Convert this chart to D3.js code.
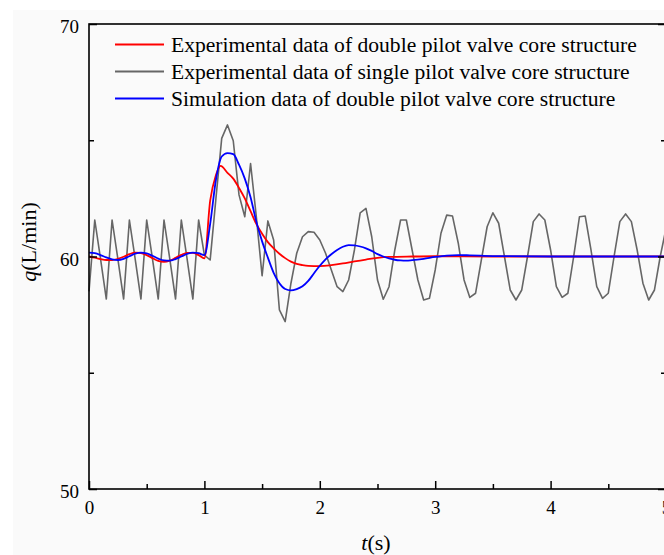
<!DOCTYPE html>
<html>
<head>
<meta charset="utf-8">
<script src="https://cdn.jsdelivr.net/npm/d3@7"></script>
<style>
  body { margin: 0; background: #ffffff; }
  svg text { font-family: "Liberation Serif", "Times New Roman", serif; fill: #000; }
</style>
</head>
<body>
<div id="chart"></div>
<script>
// single pilot experiment, sampled every 0.05 s from 0 to 5 s
const grayStep = 0.05;
const grayValues = [
  58.5, 61.57, 59.9, 58.17, 61.57, 59.9, 58.17, 61.57, 59.9, 58.17,
  61.57, 59.9, 58.17, 61.57, 59.9, 58.17, 61.57, 59.9, 58.17, 61.57,
  60.06, 59.85, 62.5, 65.08, 65.66, 64.98, 62.65, 61.71, 64.0, 61.71,
  59.17, 61.53, 60.71, 57.7, 57.2, 58.85, 60.14, 60.85, 61.07, 61.04,
  60.71, 60.14, 59.42, 58.7, 58.49, 58.99, 60.28, 61.88, 62.07, 60.85,
  58.99, 58.16, 58.7, 60.28, 61.57, 61.57, 60.28, 58.99, 58.13, 58.2,
  59.42, 61.0, 61.78, 61.74, 60.57, 58.99, 58.24, 58.42, 59.85, 61.28,
  61.88, 61.43, 60.0, 58.56, 58.13, 58.56, 60.0, 61.5, 61.83, 61.57,
  60.28, 58.7, 58.24, 58.42, 60.0, 61.71, 61.74, 60.28, 58.7, 58.2,
  58.42, 60.0, 61.5, 61.83, 61.5, 60.28, 58.85, 58.13, 58.56, 60.0,
  61.2
];

// double pilot experiment
const redTimes = [0, 0.05, 0.1, 0.15, 0.2, 0.25, 0.3, 0.35, 0.4, 0.45, 0.5, 0.55, 0.6, 0.65, 0.7, 0.75, 0.8, 0.85, 0.9, 0.95,
  1.0, 1.05, 1.1, 1.14, 1.2, 1.25, 1.3, 1.35, 1.4, 1.45, 1.5, 1.55, 1.6, 1.65, 1.7, 1.75, 1.8, 1.85, 1.9,
  2.0, 2.1, 2.2, 2.3, 2.4, 2.5, 2.6, 2.8, 3.0, 3.5, 4.0, 4.5, 5.0];
const redValues = [60.0, 59.95, 59.89, 59.85, 59.85, 59.9, 59.99, 60.1, 60.17, 60.15, 60.06, 59.93, 59.81, 59.77, 59.82, 59.94, 60.07, 60.16, 60.16, 60.06,
  59.92, 62.4, 63.5, 63.9, 63.6, 63.35, 62.95, 62.5, 61.95, 61.4, 60.98, 60.62, 60.35, 60.12, 59.93, 59.78, 59.68, 59.63, 59.6,
  59.59, 59.63, 59.7, 59.79, 59.87, 59.94, 59.98, 60.0, 60.01, 60.0, 60.0, 60.0, 60.0];

// double pilot simulation
const blueTimes = [0, 0.05, 0.1, 0.15, 0.2, 0.25, 0.3, 0.35, 0.4, 0.45, 0.5, 0.55, 0.6, 0.65, 0.7, 0.75, 0.8, 0.85, 0.9, 0.95,
  1.0, 1.05, 1.1, 1.15, 1.2, 1.25, 1.3, 1.35, 1.4, 1.45, 1.5, 1.55, 1.6, 1.65, 1.7, 1.75, 1.8, 1.85, 1.9, 1.95,
  2.0, 2.05, 2.1, 2.15, 2.2, 2.25, 2.3, 2.35, 2.4, 2.45, 2.5, 2.55, 2.6, 2.65, 2.7, 2.75, 2.8, 2.9,
  3.0, 3.1, 3.2, 3.3, 3.5, 4.0, 4.5, 5.0];
const blueValues = [60.17, 60.14, 60.06, 59.96, 59.88, 59.85, 59.9, 60.01, 60.12, 60.17, 60.13, 60.03, 59.91, 59.83, 59.82, 59.89, 60.0, 60.11, 60.17, 60.14,
  60.06, 61.4, 63.3, 64.3, 64.45, 64.4, 63.95, 63.35, 62.55, 61.5, 60.65, 59.95, 59.3, 58.85, 58.6, 58.54, 58.6, 58.72, 58.95, 59.28,
  59.6, 59.88, 60.1, 60.28, 60.42, 60.49, 60.48, 60.43, 60.35, 60.24, 60.1, 60.0, 59.92, 59.86, 59.83, 59.82, 59.84, 59.9,
  59.98, 60.04, 60.06, 60.05, 60.02, 60.0, 60.0, 60.0];

const xTicks = [0, 1, 2, 3, 4, 5];
const xMinorTicks = [0.5, 1.5, 2.5, 3.5, 4.5];
const yTicks = [50, 60, 70];
const yMinorTicks = [55, 65];

const legendLabels = [
  "Experimental data of double pilot valve core structure",
  "Experimental data of single pilot valve core structure",
  "Simulation data of double pilot valve core structure"
];
const seriesColors = ["#ff0000", "#666666", "#0000ff"];

let W = 664, H = 555;
let margin = {top: 24, left: 89, right: 666, bottom: 489};

let svg = d3.select("#chart").append("svg")
    .attr("width", W)
    .attr("height", H);

// light backdrop
svg.append("rect")
    .attr("x", 13).attr("y", 10)
    .attr("width", W - 13).attr("height", H - 10)
    .attr("fill", "#fafafa");

let x = d3.scaleLinear().domain([0, 5]).range([margin.left, margin.right]);
let y = d3.scaleLinear().domain([50, 70]).range([margin.bottom, margin.top]);

let line = d3.line()
    .x(d => x(d[0]))
    .y(d => y(d[1]));

let grayData = grayValues.map((v, i) => [i * grayStep, v]);
let redData = redTimes.map((t, i) => [t, redValues[i]]);
let blueData = blueTimes.map((t, i) => [t, blueValues[i]]);

svg.append("path")
    .datum(grayData)
    .attr("fill", "none")
    .attr("stroke", seriesColors[1])
    .attr("stroke-width", 1.6)
    .attr("stroke-linejoin", "round")
    .attr("d", line);

svg.append("path")
    .datum(redData)
    .attr("fill", "none")
    .attr("stroke", seriesColors[0])
    .attr("stroke-width", 1.8)
    .attr("d", line.curve(d3.curveMonotoneX));

svg.append("path")
    .datum(blueData)
    .attr("fill", "none")
    .attr("stroke", seriesColors[2])
    .attr("stroke-width", 1.8)
    .attr("d", line.curve(d3.curveMonotoneX));

// axes, ticks pointing inwards
let gx = svg.append("g")
    .attr("transform", `translate(0,${margin.bottom})`)
    .call(d3.axisBottom(x).tickValues(xTicks).tickSize(-8).tickPadding(12).tickFormat(d3.format("d")));
svg.append("g")
    .attr("transform", `translate(0,${margin.bottom})`)
    .call(d3.axisBottom(x).tickValues(xMinorTicks).tickSize(-5).tickFormat(""));

let gy = svg.append("g")
    .attr("transform", `translate(${margin.left},0)`)
    .call(d3.axisLeft(y).tickValues(yTicks).tickSize(-8).tickPadding(10).tickFormat(d3.format("d")));
svg.append("g")
    .attr("transform", `translate(${margin.left},0)`)
    .call(d3.axisLeft(y).tickValues(yMinorTicks).tickSize(-5).tickFormat(""));

svg.append("g")
    .attr("transform", `translate(${margin.right},0)`)
    .call(d3.axisRight(y).tickValues(yTicks).tickSize(-8).tickFormat(""));
svg.append("g")
    .attr("transform", `translate(${margin.right},0)`)
    .call(d3.axisRight(y).tickValues(yMinorTicks).tickSize(-5).tickFormat(""));

svg.selectAll(".domain").remove();
svg.selectAll(".tick line").attr("stroke", "#000").attr("stroke-width", 1.5);
svg.selectAll(".tick text").attr("font-size", "19px").attr("font-family", "Liberation Serif");
gy.selectAll(".tick text").attr("dy", "0.45em");

// frame
svg.append("rect")
    .attr("x", margin.left).attr("y", margin.top)
    .attr("width", margin.right - margin.left)
    .attr("height", margin.bottom - margin.top)
    .attr("fill", "none")
    .attr("stroke", "#000")
    .attr("stroke-width", 1.6);

// axis titles
let yt = svg.append("text")
    .attr("transform", "translate(36,242) rotate(-90)")
    .attr("text-anchor", "middle")
    .attr("font-size", "22px");
yt.append("tspan").attr("font-style", "italic").text("q");
yt.append("tspan").text("(L/min)");

let xt = svg.append("text")
    .attr("x", 376).attr("y", 550)
    .attr("text-anchor", "middle")
    .attr("font-size", "22px");
xt.append("tspan").attr("font-style", "italic").text("t");
xt.append("tspan").text("(s)");

// legend
let legend = svg.append("g");
legendLabels.forEach((label, i) => {
    let ly = 44.5 + i * 27;
    legend.append("line")
        .attr("x1", 115).attr("x2", 164)
        .attr("y1", ly).attr("y2", ly)
        .attr("stroke", seriesColors[i])
        .attr("stroke-width", 1.8);
    legend.append("text")
        .attr("x", 171).attr("y", ly + 7)
        .attr("font-size", "21.6px")
        .text(label);
});
</script>
</body>
</html>
